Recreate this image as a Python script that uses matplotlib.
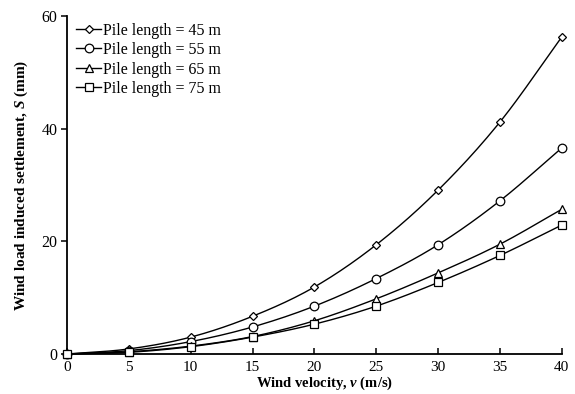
import numpy as np
import matplotlib.pyplot as plt

plt.rcParams['font.family'] = ['Liberation Serif', 'DejaVu Serif']
plt.rcParams['mathtext.fontset'] = 'custom'
plt.rcParams['mathtext.rm'] = 'Liberation Serif'
plt.rcParams['mathtext.it'] = 'Liberation Serif:italic:bold'
plt.rcParams['mathtext.bf'] = 'Liberation Serif:bold'

# Wind velocity (m/s) and settlement (mm) for each pile length
velocity = [0, 5, 10, 15, 20, 25, 30, 35, 40]
s_45 = [0, 0.9, 3.0, 6.7, 11.9, 19.4, 29.1, 41.2, 56.3]
s_55 = [0, 0.6, 2.2, 4.8, 8.5, 13.4, 19.4, 27.2, 36.6]
s_65 = [0, 0.4, 1.4, 3.1, 5.9, 9.8, 14.4, 19.5, 25.7]
s_75 = [0, 0.3, 1.3, 3.0, 5.3, 8.5, 12.7, 17.5, 22.9]
labels = ['Pile length = 45 m', 'Pile length = 55 m',
          'Pile length = 65 m', 'Pile length = 75 m']


def smooth(x, y, n=20):
    # Catmull-Rom curve through the points, like a spreadsheet smoothed line
    x = np.asarray(x, float)
    y = np.asarray(y, float)
    px = np.concatenate([[2 * x[0] - x[1]], x, [2 * x[-1] - x[-2]]])
    py = np.concatenate([[2 * y[0] - y[1]], y, [2 * y[-1] - y[-2]]])
    t = np.linspace(0, 1, n)[:, None]
    xs, ys = [], []
    for i in range(1, len(px) - 2):
        for p, out in ((px, xs), (py, ys)):
            p0, p1, p2, p3 = p[i - 1], p[i], p[i + 1], p[i + 2]
            seg = 0.5 * (2 * p1 + (-p0 + p2) * t
                         + (2 * p0 - 5 * p1 + 4 * p2 - p3) * t ** 2
                         + (-p0 + 3 * p1 - 3 * p2 + p3) * t ** 3)
            out.append(seg.ravel())
    return np.concatenate(xs), np.concatenate(ys)


fig = plt.figure(figsize=(5.75, 3.94), dpi=100)
ax = fig.add_axes([0.1165, 0.1015, 0.8605, 0.8575])

series = [(s_45, 'D', 4.2), (s_55, 'o', 6.2), (s_65, '^', 6), (s_75, 's', 5.6)]
handles = []
for (vals, mk, ms), lab in zip(series, labels):
    sx, sy = smooth(velocity, vals)
    ax.plot(sx, sy, color='black', lw=1.0, clip_on=False)
    ax.plot(velocity, vals, linestyle='none', marker=mk, ms=ms,
            mfc='white', mec='black', mew=0.9, clip_on=False, zorder=3)
    h, = ax.plot([], [], color='black', lw=1.0, marker=mk, ms=ms,
                 mfc='white', mec='black', mew=0.9, label=lab)
    handles.append(h)

ax.set_xlim(0, 40)
ax.set_ylim(0, 60)
ax.set_xticks(range(0, 41, 5))
ax.set_yticks([0, 20, 40, 60])
for side in ('top', 'right'):
    ax.spines[side].set_visible(False)
for side in ('left', 'bottom'):
    ax.spines[side].set_linewidth(1.3)
ax.tick_params(axis='x', direction='in', length=4, width=1.1, labelsize=11, pad=5)
ax.tick_params(axis='y', direction='out', length=4, width=1.1, labelsize=11.5, pad=3)

ax.set_xlabel('Wind velocity, $v$ (m/s)', fontsize=10.5, fontweight='bold',
              va='bottom')
ax.xaxis.set_label_coords(0.52, -0.113)
ax.set_ylabel('Wind load induced settlement, $S$ (mm)', fontsize=11,
              fontweight='bold', labelpad=8)

ax.legend(handles=handles, loc='upper left', frameon=False, fontsize=11.5,
          handlelength=1.6, handletextpad=0.1, labelspacing=0.22,
          borderaxespad=0.0, bbox_to_anchor=(0.005, 1.0))

fig.savefig('out.png', dpi=100)
